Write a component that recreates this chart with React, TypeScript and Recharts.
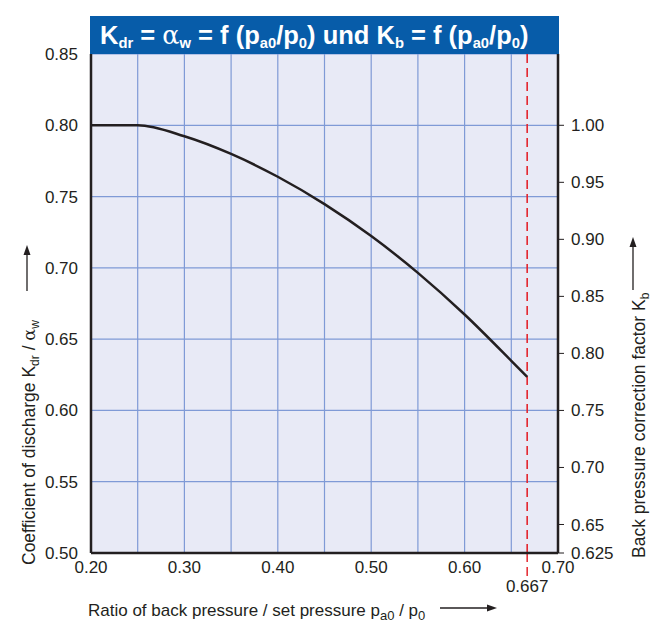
import { LineChart, Line, XAxis, YAxis, CartesianGrid, ReferenceLine } from 'recharts';

// pressure ratio p_a0 / p_0
const ratio = [0.2, 0.25, 0.3, 0.35, 0.4, 0.45, 0.5, 0.55, 0.6, 0.65, 0.667];
// coefficient of discharge K_dr / alpha_w
const kdr = [0.8, 0.8, 0.7923, 0.7799, 0.7639, 0.7447, 0.7223, 0.6965, 0.6673, 0.6348, 0.6235];

const xTicks = [0.2, 0.25, 0.3, 0.35, 0.4, 0.45, 0.5, 0.55, 0.6, 0.65, 0.7];
const leftTicks = [0.5, 0.55, 0.6, 0.65, 0.7, 0.75, 0.8, 0.85];
const rightTicks = [0.625, 0.65, 0.7, 0.75, 0.8, 0.85, 0.9, 0.95, 1.0];

const data = ratio.map((x, i) => ({ x, kdr: kdr[i] }));

const FONT = '"Liberation Sans", Arial, Helvetica, sans-serif';
const INK = '#231f20';
const LABEL_SIZE = 17.5;
const SUB_SIZE = 12;

// thin arrow with a filled head, drawn from tail to tip
const Arrow = ({ x1, y1, x2, y2 }: { x1: number; y1: number; x2: number; y2: number }) => {
  const a = Math.atan2(y2 - y1, x2 - x1);
  const len = 10;
  const w = 3.5;
  const bx = x2 - len * Math.cos(a);
  const by = y2 - len * Math.sin(a);
  const px = -Math.sin(a) * w;
  const py = Math.cos(a) * w;
  return (
    <g>
      <line x1={x1} y1={y1} x2={bx} y2={by} stroke={INK} strokeWidth={1.3} />
      <path d={`M${x2},${y2} L${bx + px},${by + py} L${bx - px},${by - py} Z`} fill={INK} />
    </g>
  );
};

const LeftLabel = () => (
  <g>
    <text x={27} y={557} transform="rotate(-90, 27, 557)" fontSize={LABEL_SIZE} fill={INK} fontFamily={FONT}>
      Coefficient of discharge K
      <tspan dy={4} fontSize={SUB_SIZE}>dr</tspan>
      <tspan dy={-4}> / </tspan>
      <tspan fontFamily="DejaVu Serif, serif">α</tspan>
      <tspan dy={4} fontSize={SUB_SIZE}>w</tspan>
    </text>
    <Arrow x1={19} y1={283} x2={19} y2={237} />
  </g>
);

const RightLabel = () => (
  <g>
    <text x={637} y={550} transform="rotate(-90, 637, 550)" fontSize={LABEL_SIZE} fill={INK} fontFamily={FONT}>
      Back pressure correction factor K
      <tspan dy={4} fontSize={SUB_SIZE}>b</tspan>
    </text>
    <Arrow x1={625} y1={282} x2={625} y2={229} />
  </g>
);

const BottomLabel = () => (
  <g>
    <text x={80} y={608} fontSize={17} fill={INK} fontFamily={FONT}>
      Ratio of back pressure / set pressure p
      <tspan dy={4} fontSize={SUB_SIZE + 1}>a0</tspan>
      <tspan dy={-4}> / p</tspan>
      <tspan dy={4} fontSize={SUB_SIZE + 1}>0</tspan>
    </text>
    <Arrow x1={432} y1={600} x2={489} y2={600} />
  </g>
);

const LimitLabel = (props: any) => {
  const vb = props.viewBox || {};
  const x = vb.x ?? 0;
  const bottom = (vb.y ?? 0) + (vb.height ?? 0);
  return (
    <g>
      <line x1={x} y1={bottom} x2={x} y2={bottom + 25} stroke="#e3262e" strokeWidth={1.5} strokeDasharray="9 5" />
      <text x={x} y={bottom + 39} textAnchor="middle" fontSize={17} fill={INK} fontFamily={FONT}>
        0.667
      </text>
    </g>
  );
};

const sub = { fontSize: '0.58em', verticalAlign: '-0.3em' } as const;
const tickStyle = { fill: INK, fontSize: 17, fontFamily: FONT };

export default function App() {
  return (
    <div style={{ position: 'relative', width: 650, height: 615, fontFamily: FONT }}>
      <LineChart width={650} height={615} data={data} margin={{ top: 46, right: 40, bottom: 38, left: 0 }}>
        <CartesianGrid yAxisId="left" fill="#e8eaf6" stroke="#7f9ad6" strokeWidth={1.2} />
        <XAxis
          dataKey="x"
          type="number"
          domain={[0.2, 0.7]}
          ticks={xTicks}
          interval={0}
          tickFormatter={(v: number) => (Math.round(v * 100) % 10 === 0 ? v.toFixed(2) : '')}
          tickLine={false}
          axisLine={{ stroke: INK, strokeWidth: 2.5 }}
          tick={tickStyle}
          height={32}
          label={<BottomLabel />}
        />
        <YAxis
          yAxisId="left"
          type="number"
          domain={[0.5, 0.85]}
          ticks={leftTicks}
          interval={0}
          tickFormatter={(v: number) => v.toFixed(2)}
          tickLine={false}
          tickMargin={7}
          axisLine={{ stroke: INK, strokeWidth: 2.5 }}
          tick={tickStyle}
          width={83}
          label={<LeftLabel />}
        />
        <YAxis
          yAxisId="right"
          orientation="right"
          type="number"
          domain={[0.625, 1.0625]}
          allowDataOverflow
          ticks={rightTicks}
          interval={0}
          tickFormatter={(v: number) => (v === 0.625 ? '0.625' : v.toFixed(2))}
          tickSize={6}
          tickMargin={7}
          tickLine={{ stroke: INK }}
          axisLine={{ stroke: INK, strokeWidth: 2.5 }}
          tick={tickStyle}
          width={60}
          label={<RightLabel />}
        />
        <ReferenceLine
          yAxisId="left"
          x={0.667}
          stroke="#e3262e"
          strokeWidth={1.6}
          strokeDasharray="9 5"
          label={<LimitLabel />}
        />
        <Line
          yAxisId="left"
          type="monotone"
          dataKey="kdr"
          stroke={INK}
          strokeWidth={2.5}
          dot={false}
          isAnimationActive={false}
        />
      </LineChart>
      <div
        style={{
          position: 'absolute',
          left: 82,
          top: 8,
          width: 469,
          height: 38,
          background: '#075ca9',
          color: '#fff',
          fontWeight: 'bold',
          fontSize: 25.5,
          lineHeight: '38px',
          paddingLeft: 10,
          boxSizing: 'border-box',
          whiteSpace: 'nowrap',
        }}
      >
        K<span style={sub}>dr</span> = <span style={{ fontFamily: 'DejaVu Serif, serif', fontWeight: 'normal' }}>α</span>
        <span style={sub}>w</span> = f (p<span style={sub}>a0</span>/p<span style={sub}>0</span>) und K
        <span style={sub}>b</span> = f (p<span style={sub}>a0</span>/p<span style={sub}>0</span>)
      </div>
    </div>
  );
}
